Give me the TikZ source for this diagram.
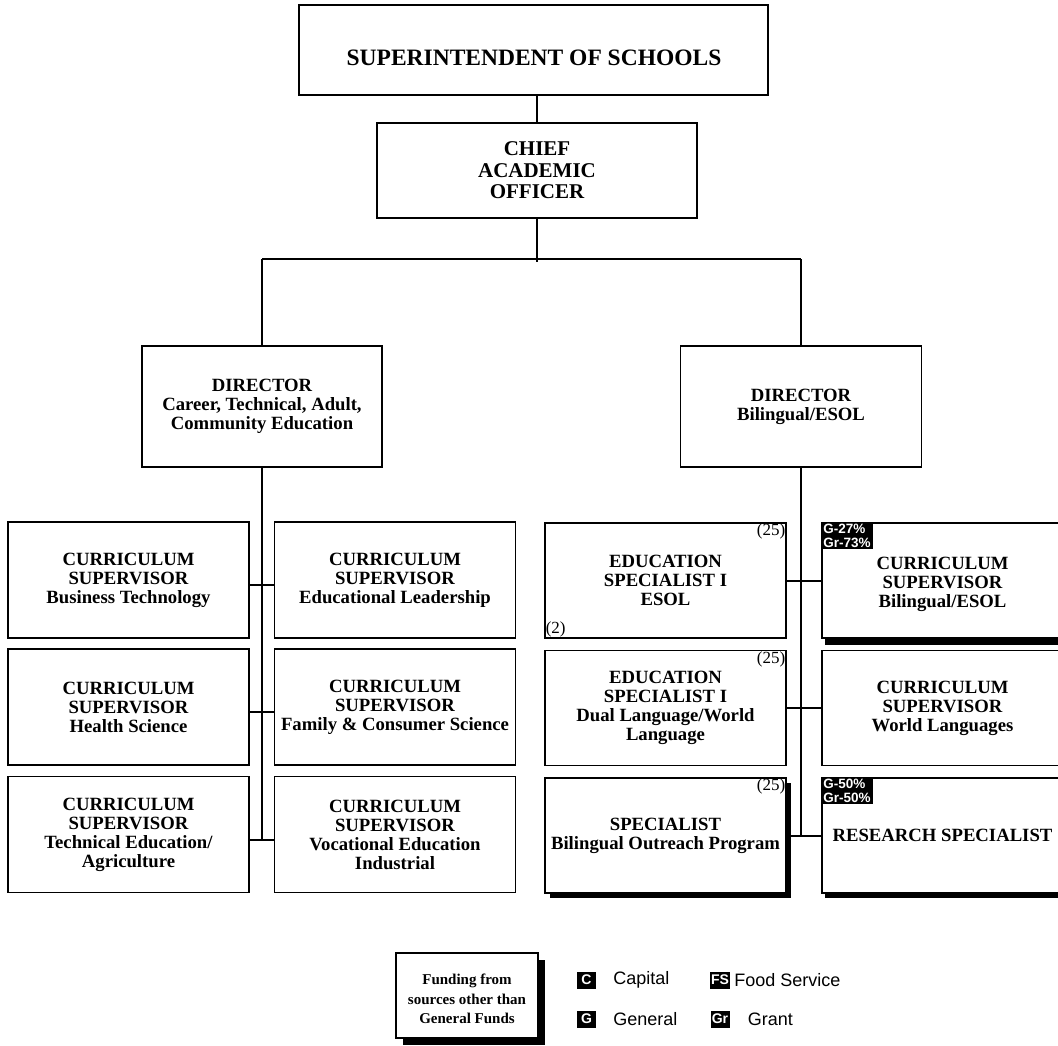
\documentclass[tikz,border=0pt]{standalone}
\usepackage{fontspec}
\setmainfont{Liberation Serif}
\newfontfamily\arialf{Liberation Sans}
\usetikzlibrary{shadows}
\tikzset{
  box/.style={draw, line width=1.8pt, fill=white, align=center, inner sep=0pt,
    font=\bfseries\fontsize{18.7}{19}\selectfont},
  cell/.style={box, minimum width=241pt, minimum height=116pt},
  rcell/.style={box, minimum width=241pt, minimum height=115pt},
  conn/.style={line width=2pt},
  shad/.style 2 args={drop shadow={shadow xshift=#1pt, shadow yshift=-#2pt, fill=black, draw=none, opacity=1}},
  tag/.style={fill=black, text=white, align=left, inner xsep=2pt, inner ysep=1.5pt,
    font=\arialf\bfseries\fontsize{13.5}{14.5}\selectfont},
  cnt/.style={inner sep=1.5pt, font=\fontsize{17}{17}\selectfont},
  key/.style={fill=black, text=white, minimum width=19pt, minimum height=17pt, inner sep=1pt,
    font=\arialf\bfseries\fontsize{14}{14}\selectfont},
  ktext/.style={anchor=west, inner sep=0pt, font=\arialf\fontsize{18}{18}\selectfont}
}
\begin{document}
\begin{tikzpicture}[x=1pt,y=-1pt]
\useasboundingbox (0,0) rectangle (1058,1046);
\fill[white] (0,0) rectangle (1058,1046);
\clip (0,0) rectangle (1058,1046);

% top
\node[box, minimum width=469pt, minimum height=90pt] (sup) at (533.5,50) {};
\node[font=\bfseries\fontsize{23.5}{24}\selectfont, inner sep=0pt] (supt) at (534,58) {SUPERINTENDENT OF SCHOOLS};
\node[box, minimum width=320pt, minimum height=95pt, font=\bfseries\fontsize{21}{21.5}\selectfont] (cao) at (537,170.5) {CHIEF\\ACADEMIC\\OFFICER};

% directors
\node[box, minimum width=240pt, minimum height=121pt] (dl) at (262,406.5) {DIRECTOR\\Career, Technical, Adult,\\Community Education};
\node[box, minimum width=241pt, minimum height=121pt] (dr) at (801,406.5) {DIRECTOR\\Bilingual/ESOL};

% left grid
\node[cell] (a1) at (128.5,580) {CURRICULUM\\SUPERVISOR\\Business Technology};
\node[cell] (b1) at (395,580) {CURRICULUM\\SUPERVISOR\\Educational Leadership};
\node[cell] (a2) at (128.5,707) {CURRICULUM\\SUPERVISOR\\Health Science};
\node[cell] (b2) at (395,707) {CURRICULUM\\SUPERVISOR\\Family \& Consumer Science};
\node[cell] (a3) at (128.5,834.5) {CURRICULUM\\SUPERVISOR\\Technical Education/\\Agriculture};
\node[cell] (b3) at (395,834.5) {CURRICULUM\\SUPERVISOR\\Vocational Education\\Industrial};

% right grid
\node[rcell] (e1) at (665.5,580.5) {EDUCATION\\SPECIALIST I\\ESOL};
\node[rcell, shad={3}{7}] (s1) at (942.5,580.5) {};
\node[inner sep=0pt, align=center, font=\bfseries\fontsize{18.7}{19}\selectfont] (s1t) at (942.5,584) {CURRICULUM\\SUPERVISOR\\Bilingual/ESOL};
\node[rcell] (e2) at (665.5,708) {EDUCATION\\SPECIALIST I\\Dual Language/World\\Language};
\node[rcell] (s2) at (942.5,708) {CURRICULUM\\SUPERVISOR\\World Languages};
\node[rcell, shad={5}{5}] (e3) at (665.5,835.5) {SPECIALIST\\Bilingual Outreach Program};
\node[rcell, shad={3}{5}] (s3) at (942.5,835.5) {RESEARCH SPECIALIST};

% funding tags and counts
\node[tag, anchor=north west] (t1) at (s1.north west) {G-27\%\\Gr-73\%};
\node[tag, anchor=north west] (t3) at (s3.north west) {G-50\%\\Gr-50\%};
\node[cnt, anchor=north east] (n1) at (e1.north east) {(25)};
\node[cnt, anchor=south west] (m1) at (e1.south west) {(2)};
\node[cnt, anchor=north east] (n2) at (e2.north east) {(25)};
\node[cnt, anchor=north east] (n3) at (e3.north east) {(25)};

% connectors
\coordinate (cb) at (537,262);
\coordinate (bl) at (262,259);
\coordinate (br) at (801,259);
\coordinate (jl) at (262,840);
\coordinate (jr) at (801,836);
\draw[conn] (sup.south -| cao.north) -- (cao.north);
\draw[conn] (cao.south) -- (cb);
\draw[conn] (bl) -- (br);
\draw[conn] (bl) -- (dl.north);
\draw[conn] (br) -- (dr.north);
\draw[conn] (dl.south) -- (jl);
\draw[conn] ([yshift=-5pt]a1.east) -- ([yshift=-5pt]b1.west);
\draw[conn] ([yshift=-5pt]a2.east) -- ([yshift=-5pt]b2.west);
\draw[conn] ([yshift=-5pt]a3.east) -- ([yshift=-5pt]b3.west);
\draw[conn] (dr.south) -- (jr);
\draw[conn] (e1.east) -- (s1.west);
\draw[conn] (e2.east) -- (s2.west);
\draw[conn] (e3.east) -- (s3.west);

% legend
\node[box, minimum width=142pt, minimum height=85pt, shad={7}{7}] (fund) at (467,995.5) {};
\node[inner sep=0pt, align=center, font=\bfseries\fontsize{15}{19.5}\selectfont] (fundt) at (467,999) {Funding from\\sources other than\\General Funds};
\node[key] (kc) at (586.5,980) {C};
\node[ktext] (lc) at ([xshift=17pt]kc.east) {Capital};
\node[key] (kg) at (586.5,1019) {G};
\node[ktext] (lg) at ([xshift=17pt]kg.east) {General};
\node[key] (kf) at (720,980) {FS};
\node[ktext] (lf) at ([xshift=4pt]kf.east) {Food Service};
\node[key] (kr) at (720,1019) {Gr};
\node[ktext] (lr) at ([xshift=18pt]kr.east) {Grant};
\end{tikzpicture}
\end{document}
